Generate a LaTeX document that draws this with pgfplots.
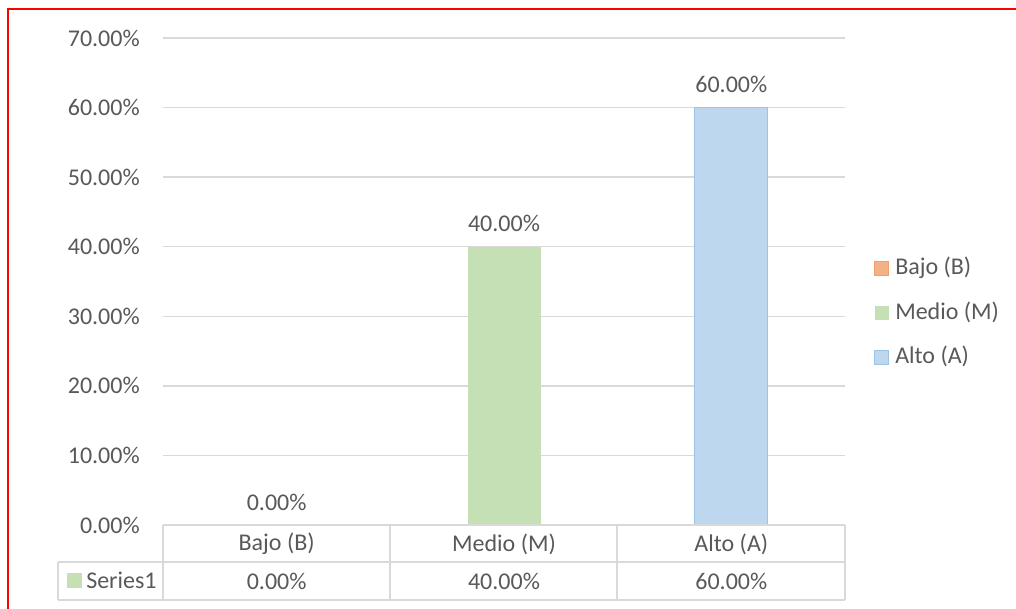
\documentclass[border=0pt]{standalone}
\usepackage{fontspec}
\setmainfont{Carlito}
\usepackage{pgfplots}
\pgfplotsset{compat=1.18}
\definecolor{txt}{HTML}{595959}
\definecolor{gridc}{HTML}{D9D9D9}
\definecolor{bajo}{HTML}{F4B183}
\definecolor{bajoedge}{HTML}{F0A070}
\definecolor{medio}{HTML}{C5E0B4}
\definecolor{alto}{HTML}{BDD7EE}
\definecolor{altoedge}{HTML}{9DC3E6}
\newcommand{\lbl}{\fontsize{18}{21.6}\selectfont}
\begin{document}
\begin{tikzpicture}
\useasboundingbox (0,0) rectangle (762pt,456pt);
\fill[white] (0,0) rectangle (762pt,456pt);
\draw[red, line width=1.5pt] (6pt,-5pt) -- (6pt,449.25pt) -- (770pt,449.25pt);
\begin{axis}[
  at={(122.25pt,62.25pt)}, anchor=south west,
  scale only axis, width=511.5pt, height=365.25pt,
  xmin=-0.5, xmax=2.5, ymin=0, ymax=70,
  ybar, bar width=54.75pt, bar shift=0pt,
  xtick={0,1,2}, xticklabels={Bajo (B), Medio (M), Alto (A)},
  ytick={0,10,...,70},
  yticklabel={\pgfmathprintnumber[fixed,fixed zerofill,precision=2]{\tick}\%},
  /pgf/number format/assume math mode=true,
  ymajorgrids, grid style={gridc, line width=1pt},
  axis line style={draw=none},
  major tick length=0pt,
  tick label style={font=\lbl, text=txt},
  yticklabel style={anchor=east, inner sep=0pt, xshift=-17.25pt},
  xticklabel style={anchor=center, inner sep=0pt, yshift=-14.25pt},
  clip=false,
  nodes near coords={\pgfmathprintnumber[fixed,fixed zerofill,precision=2]{\pgfplotspointmeta}\%},
  nodes near coords style={font=\lbl, text=txt, anchor=center, yshift=17.25pt},
  legend style={draw=none, fill=none, at={(1.0425,0.4333)}, anchor=west,
    inner sep=0pt, row sep=17.5pt, column sep=4.5pt, font=\lbl, text=txt,
    nodes={inner sep=0pt, text height=12pt, text depth=4pt}},
  legend cell align=left,
]
\addplot[fill=bajo, draw=none,
  legend image code/.code={\draw[fill=bajo, draw=bajoedge, line width=0.5pt] (0pt,-4.5pt) rectangle (10.5pt,6pt);}]
  coordinates {(0,0)};
\addplot[fill=medio, draw=none,
  legend image code/.code={\fill[medio] (0pt,-4.5pt) rectangle (10.5pt,6pt);}]
  coordinates {(1,40)};
\addplot[fill=alto, draw=altoedge, line width=0.75pt,
  legend image code/.code={\draw[fill=alto, draw=altoedge, line width=0.75pt] (0pt,-4.5pt) rectangle (10.5pt,6pt);}]
  coordinates {(2,60)};
\legend{Bajo (B), Medio (M), Alto (A)}
\node[font=\lbl, text=txt, yshift=-42pt] at (axis cs:0,0) {0.00\%};
\node[font=\lbl, text=txt, yshift=-42pt] at (axis cs:1,0) {40.00\%};
\node[font=\lbl, text=txt, yshift=-42pt] at (axis cs:2,0) {60.00\%};
\end{axis}
% data table grid
\begin{scope}[gridc, line width=1pt]
\draw (122.25pt,62.25pt) -- (633.75pt,62.25pt);
\draw (43.5pt,34.5pt) -- (633.75pt,34.5pt);
\draw (43.5pt,6pt) -- (633.75pt,6pt);
\draw (43.5pt,6pt) -- (43.5pt,34.5pt);
\draw (122.25pt,6pt) -- (122.25pt,62.25pt);
\draw (292.5pt,6pt) -- (292.5pt,62.25pt);
\draw (462.75pt,6pt) -- (462.75pt,62.25pt);
\draw (633.75pt,6pt) -- (633.75pt,62.25pt);
\end{scope}
\fill[medio] (50.25pt,15pt) rectangle (61.5pt,26.25pt);
\node[font=\lbl, text=txt, anchor=west, inner sep=0pt] at (64.5pt,20.6pt) {Series1};
\end{tikzpicture}
\end{document}
